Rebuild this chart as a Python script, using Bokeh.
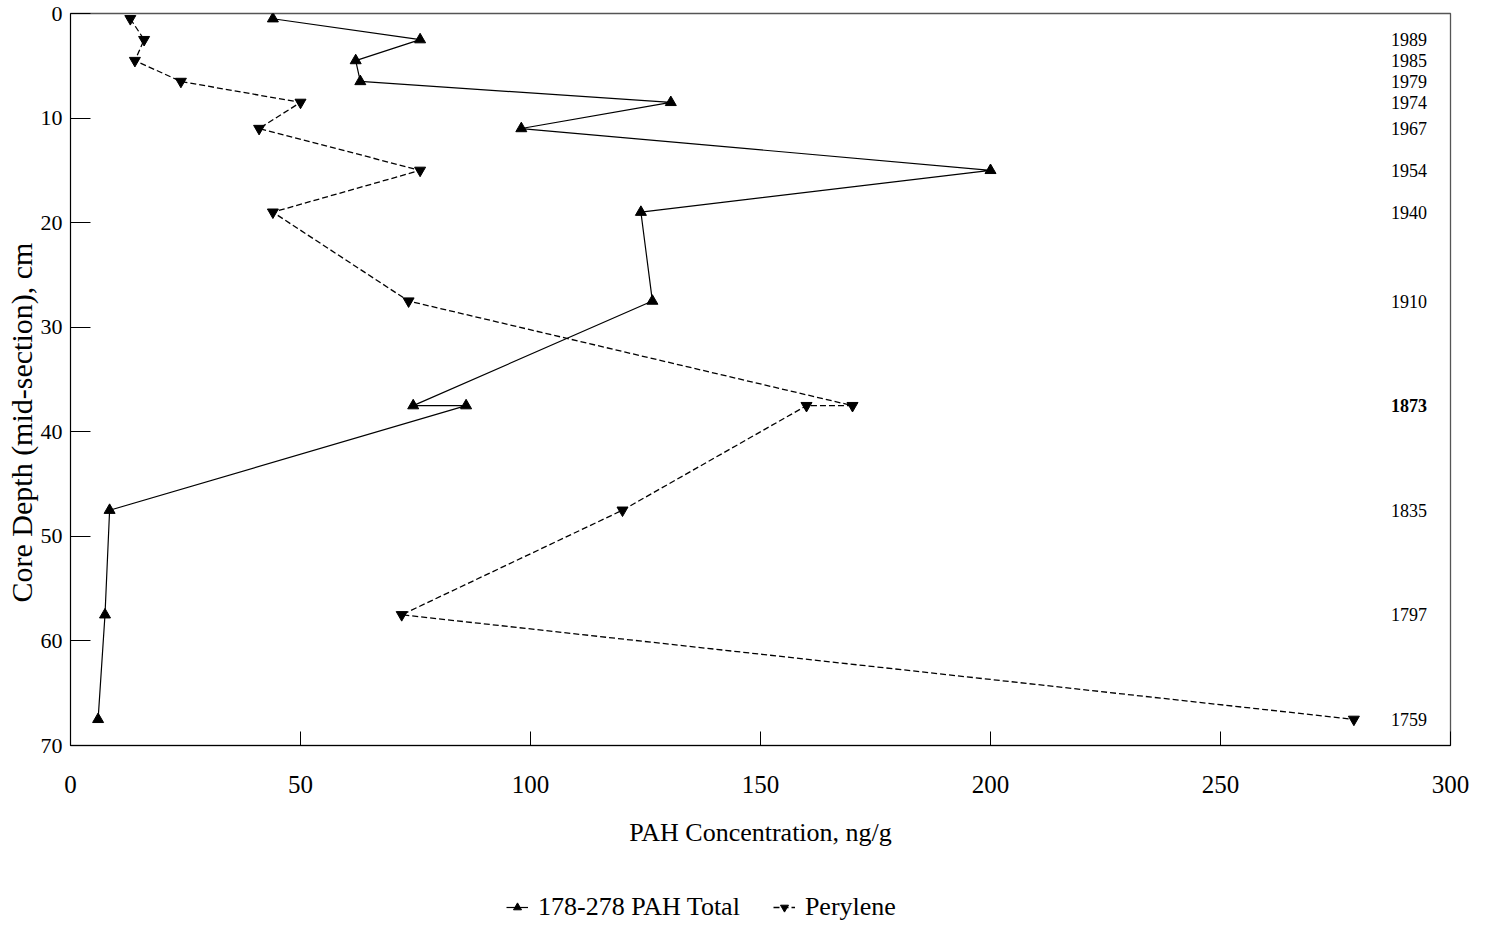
from bokeh.plotting import figure
from bokeh.layouts import column
from bokeh.models import Range1d, FixedTicker, Legend, LegendItem, ColumnDataSource, Title
from bokeh.core.properties import value
from bokeh.embed import file_html
from bokeh.resources import INLINE

# ---- data ----
pah_conc = [44, 76, 62, 63, 130.5, 98, 200, 124, 126.5, 74.5, 86, 8.5, 7.5, 6]
pah_depth = [0.5, 2.5, 4.5, 6.5, 8.5, 11, 15, 19, 27.5, 37.5, 37.5, 47.5, 57.5, 67.5]
per_conc = [13, 16, 14, 24, 50, 41, 76, 44, 73.5, 170, 160, 120, 72, 279]
per_depth = [0.5, 2.5, 4.5, 6.5, 8.5, 11, 15, 19, 27.5, 37.5, 37.5, 47.5, 57.5, 67.5]
years = ["1989", "1985", "1979", "1974", "1967", "1954", "1940", "1910", "1873", "1835", "1797", "1759"]
year_depth = [2.5, 4.5, 6.5, 8.5, 11, 15, 19, 27.5, 37.5, 47.5, 57.5, 67.5]
year_x = 291
x_ticks = [0, 50, 100, 150, 200, 250, 300]
y_ticks = [0, 10, 20, 30, 40, 50, 60, 70]
series_names = ["178-278 PAH Total", "Perylene"]

FONT = "Liberation Serif"

p = figure(width=1476, height=862, output_backend="svg", toolbar_location=None,
           x_range=Range1d(0, 300), y_range=Range1d(70, 0),
           min_border_left=70, min_border_right=26, min_border_top=13, min_border_bottom=117)
p.grid.visible = False
p.outline_line_color = "#555555"
p.outline_line_width = 1.3

# axes
xa = p.xaxis[0]
xa.ticker = FixedTicker(ticks=x_ticks)
xa.major_tick_in = 14
xa.major_tick_out = 0
xa.minor_tick_line_color = None
xa.major_label_standoff = 30
xa.major_label_text_font = FONT
xa.major_label_text_font_size = "25px"
xa.major_label_text_color = "black"
xa.axis_label = "PAH Concentration, ng/g"
xa.axis_label_text_font = FONT
xa.axis_label_text_font_style = "normal"
xa.axis_label_text_font_size = "26px"
xa.axis_label_text_color = "black"
xa.axis_label_standoff = 22
xa.axis_line_color = "black"
xa.major_tick_line_color = "black"

ya = p.yaxis[0]
ya.ticker = FixedTicker(ticks=y_ticks)
ya.major_tick_in = 20
ya.major_tick_out = 0
ya.minor_tick_line_color = None
ya.major_label_standoff = 8
ya.major_label_text_font = FONT
ya.major_label_text_font_size = "22px"
ya.major_label_text_color = "black"
ya.axis_line_color = "black"
ya.major_tick_line_color = "black"

# y axis title: sits below the frame centre, as in the reference
ytitle = Title(text="Core Depth (mid-section), cm", align="left", offset=143, standoff=0,
               text_font=FONT, text_font_size="30px", text_font_style="normal",
               text_color="black")
p.add_layout(ytitle, "left")

# series
pah_src = ColumnDataSource(dict(x=pah_conc, y=pah_depth))
per_src = ColumnDataSource(dict(x=per_conc, y=per_depth))
sources = [pah_src, per_src]

line_styles = [dict(line_color="black", line_width=1.2),
               dict(line_color="black", line_width=1.3, line_dash="6 3")]
marker_kinds = ["triangle", "inverted_triangle"]

for src, ls, mk in zip(sources, line_styles, marker_kinds):
    p.line("x", "y", source=src, **ls)
    p.scatter("x", "y", source=src, marker=mk, size=11, fill_color="black", line_color="black")

# year annotations
yr_src = ColumnDataSource(dict(x=[year_x] * len(years), y=year_depth, t=years,
                               st=["bold" if yv == "1873" else "normal" for yv in years]))
p.text("x", "y", text="t", source=yr_src, text_font=value(FONT), text_font_size="18px",
       text_align="center", text_baseline="middle", text_font_style="st", text_color="black")

# legend strip below the chart (same styles as the series; its renderers are hidden)
leg = figure(width=1476, height=60, output_backend="svg", toolbar_location=None,
             x_axis_location=None, y_axis_location=None,
             x_range=Range1d(0, 300), y_range=Range1d(70, 0),
             min_border_left=0, min_border_right=0, min_border_top=0, min_border_bottom=0)
leg.grid.visible = False
leg.outline_line_color = None
items = []
for name, src, ls, mk in zip(series_names, sources, line_styles, marker_kinds):
    lr = leg.line("x", "y", source=src, visible=False, **ls)
    mr = leg.scatter("x", "y", source=src, marker=mk, size=9, visible=False,
                     fill_color="black", line_color="black")
    items.append(LegendItem(label=name, renderers=[lr, mr]))

legend = Legend(items=items, orientation="horizontal", location=(436, 0))
legend.border_line_color = None
legend.background_fill_alpha = 0
legend.inactive_fill_alpha = 0
legend.label_text_font = FONT
legend.label_text_font_size = "26px"
legend.label_text_color = "black"
legend.glyph_width = 22
legend.glyph_height = 20
legend.label_standoff = 10
legend.spacing = 33
legend.padding = 2
legend.margin = 0
leg.add_layout(legend, "center")

layout = column(p, leg, spacing=0)
open("out.html", "w").write(file_html(layout, INLINE))
